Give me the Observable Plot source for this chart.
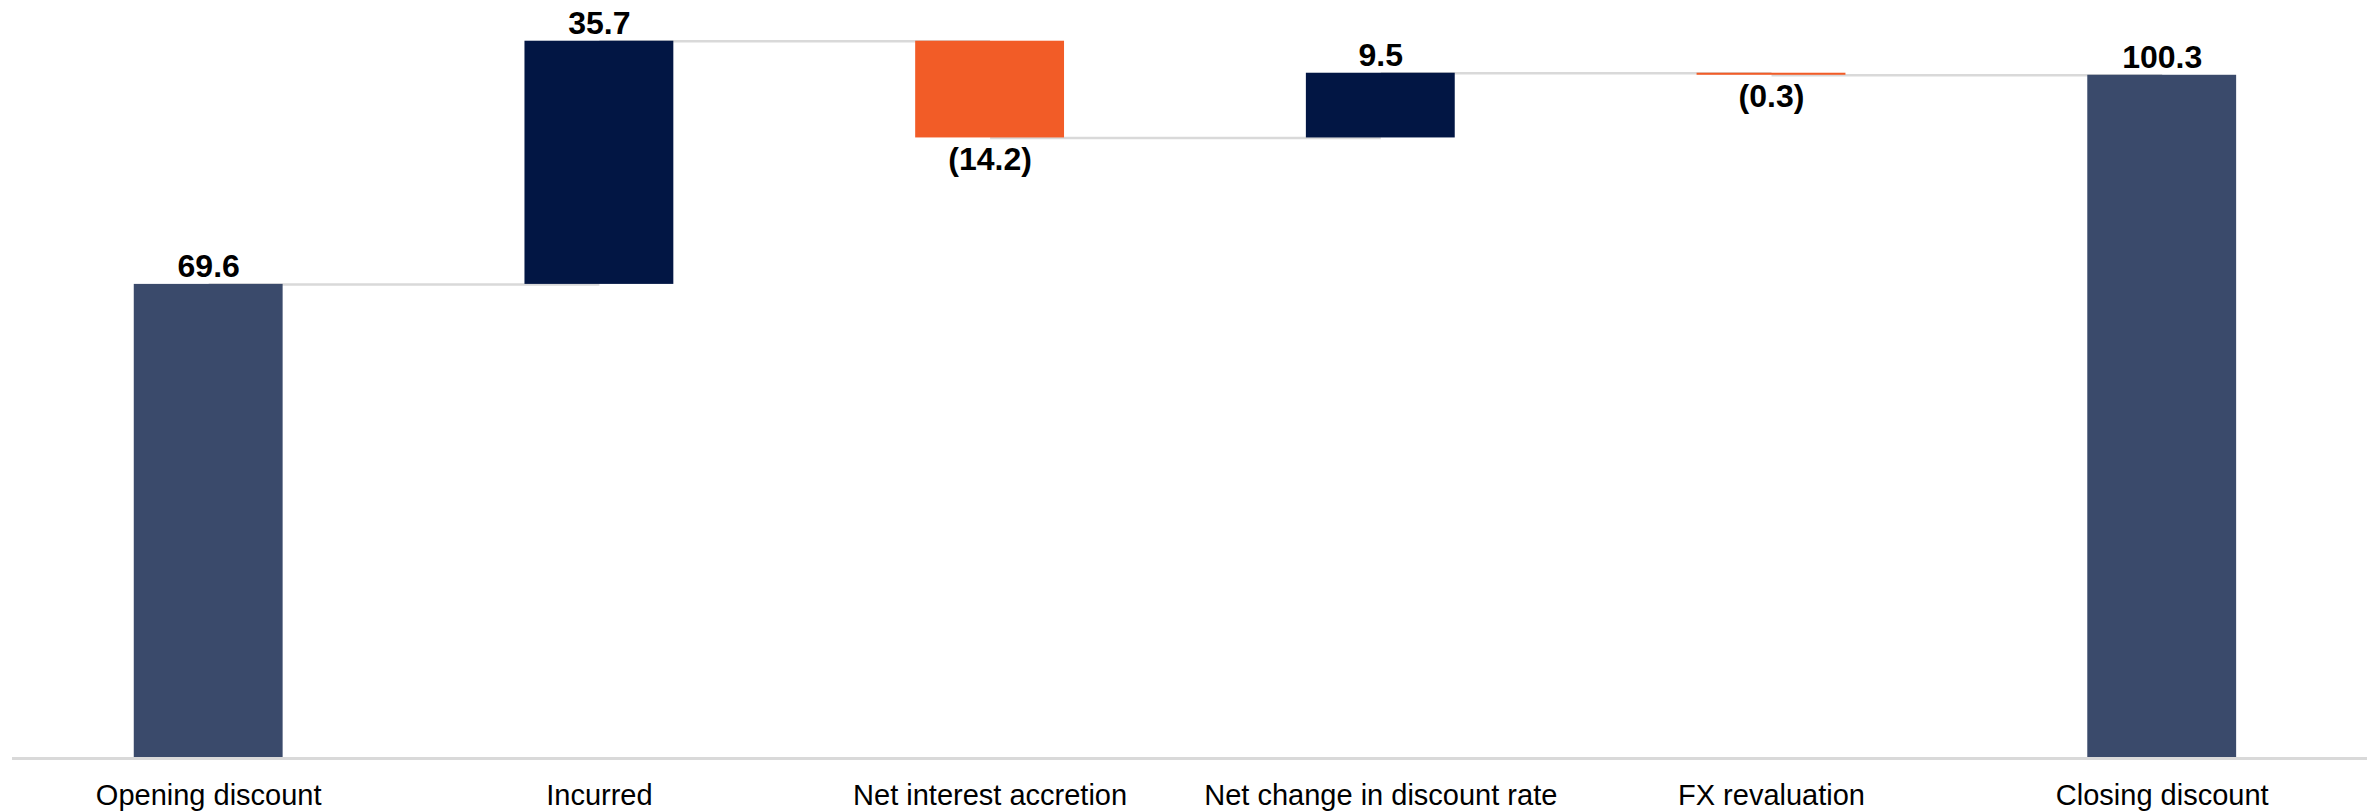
<!DOCTYPE html>
<html>
<head>
<meta charset="utf-8">
<script src="https://cdn.jsdelivr.net/npm/d3@7"></script>
<script src="https://cdn.jsdelivr.net/npm/@observablehq/plot@0.6"></script>
<style>
  html, body { margin: 0; padding: 0; background: #fff; }
  #chart svg { display: block; }
</style>
</head>
<body>
<div id="chart"></div>
<script>
const categories = ["Opening discount", "Incurred", "Net interest accretion", "Net change in discount rate", "FX revaluation", "Closing discount"];
const values = [69.6, 35.7, -14.2, 9.5, -0.3, 100.3];
const kinds = ["total", "delta", "delta", "delta", "delta", "total"];
const valueLabels = ["69.6", "35.7", "(14.2)", "9.5", "(0.3)", "100.3"];

const colors = { total: "#3a4a6b", up: "#021644", down: "#f25c27" };

// Build waterfall table from the arrays
let running = 0;
const rows = categories.map((c, i) => {
  let y1, y2;
  if (kinds[i] === "total") { y1 = 0; y2 = values[i]; running = values[i]; }
  else { y1 = running; y2 = running + values[i]; running = y2; }
  const type = kinds[i] === "total" ? "total" : (values[i] >= 0 ? "up" : "down");
  return { cat: c, y1, y2, top: Math.max(y1, y2), bottom: Math.min(y1, y2), type, label: valueLabels[i], neg: values[i] < 0, end: y2 };
});
const links = rows.slice(0, -1).map((r, i) => ({ a: r.cat, b: rows[i + 1].cat, level: r.end }));

const font = "'Liberation Sans', Arial, Helvetica, sans-serif";

const chart = Plot.plot({
  width: 2367,
  height: 812,
  marginTop: 8.7,
  marginBottom: 54,
  marginLeft: 12,
  marginRight: 0,
  style: { fontFamily: font, background: "#fff" },
  x: { domain: categories, paddingInner: 0.619, paddingOuter: 0.3233, align: 0.482, round: false, label: null },
  y: { domain: [0, 110], axis: null },
  marks: [
    Plot.link(links, { x1: "a", x2: "b", y1: "level", y2: "level", stroke: "#d9d9d9", strokeWidth: 2.5 }),
    Plot.barY(rows, { x: "cat", y1: "y1", y2: "y2", fill: d => colors[d.type] }),
    Plot.ruleY([0], { stroke: "#d9d9d9", strokeWidth: 3 }),
    Plot.text(rows.filter(d => !d.neg), { x: "cat", y: "top", text: "label", lineAnchor: "bottom", dy: -7, fontSize: 32, fontWeight: "bold", fill: "#000" }),
    Plot.text(rows.filter(d => d.neg), { x: "cat", y: "bottom", text: "label", lineAnchor: "top", dy: 9, fontSize: 32, fontWeight: "bold", fill: "#000" }),
    Plot.axisX({ tickSize: 0, tickPadding: 26, fontSize: 29, color: "#000", label: null })
  ]
});
document.getElementById("chart").appendChild(chart);
</script>
</body>
</html>
